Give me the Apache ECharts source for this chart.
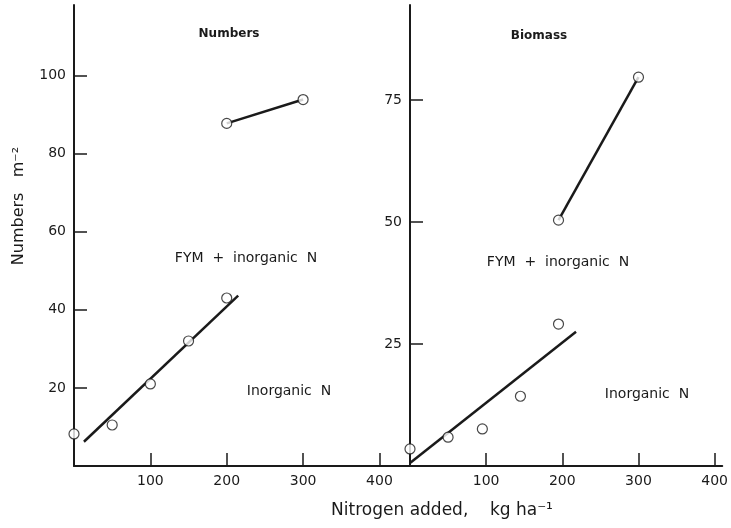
<!DOCTYPE html>
<html>
<head>
<meta charset="utf-8">
<script src="https://cdn.jsdelivr.net/npm/echarts@6/dist/echarts.min.js"></script>
<style>
  html, body { margin: 0; padding: 0; background: #fff; }
  #main { width: 731px; height: 528px; }
</style>
</head>
<body>
<div id="main"></div>
<script>
// Numbers panel (left)
const numInorgX = [0, 50, 100, 150, 200];
const numInorgY = [8.2, 10.5, 21, 32, 43];
const numInorgFitX = [13, 215];
const numInorgFitY = [6.2, 43.6];
const numFymX = [200, 300];
const numFymY = [87.7, 93.8];

// Biomass panel (right)
const bioInorgX = [0, 50, 95, 145, 195];
const bioInorgY = [3.5, 5.9, 7.6, 14.3, 29.1];
const bioInorgFitX = [0, 218];
const bioInorgFitY = [0.6, 27.5];
const bioFymX = [195, 300];
const bioFymY = [50.4, 79.7];

// tick labels
const xTicks = [100, 200, 300, 400];
const numYTicks = [20, 40, 60, 80, 100];
const bioYTicks = [25, 50, 75];

const ink = '#1a1a1a';
const font = 'DejaVu Sans';
const pairs = (xs, ys) => xs.map((x, i) => [x, ys[i]]);

const axisBase = {
  type: 'value',
  splitLine: { show: false },
  axisLine: { show: true, lineStyle: { color: ink, width: 2 } },
  axisTick: { show: true, inside: true, length: 13, lineStyle: { color: ink, width: 1.5 } },
  axisLabel: { color: ink, fontFamily: font, fontSize: 14 }
};

const xAxisOf = (idx, max) => ({
  ...axisBase,
  gridIndex: idx,
  min: 0,
  max: max,
  axisTick: { ...axisBase.axisTick, customValues: xTicks },
  axisLabel: { ...axisBase.axisLabel, customValues: xTicks, margin: 8 }
});

const yAxisOf = (idx, max, ticks) => ({
  ...axisBase,
  gridIndex: idx,
  min: 0,
  max: max,
  axisTick: { ...axisBase.axisTick, customValues: ticks },
  axisLabel: { ...axisBase.axisLabel, customValues: ticks, margin: 8 }
});

const points = (idx, xs, ys) => ({
  type: 'scatter',
  xAxisIndex: idx,
  yAxisIndex: idx,
  symbol: 'circle',
  symbolSize: 10,
  itemStyle: { color: '#fff', borderColor: ink, borderWidth: 1.2 },
  z: 5,
  data: pairs(xs, ys)
});

const line = (idx, xs, ys) => ({
  type: 'line',
  xAxisIndex: idx,
  yAxisIndex: idx,
  showSymbol: false,
  lineStyle: { color: ink, width: 2.5 },
  z: 3,
  data: pairs(xs, ys)
});

const label = (text, x, y, size, weight, rot) => ({
  type: 'text',
  x: x,
  y: y,
  rotation: rot || 0,
  style: {
    text: text,
    fill: ink,
    font: (weight || 'normal') + ' ' + size + 'px "' + font + '"',
    textAlign: 'center',
    textVerticalAlign: 'middle'
  }
});

const chart = echarts.init(document.getElementById('main'));
chart.setOption({
  animation: false,
  backgroundColor: '#fff',
  grid: [
    { left: 74, top: 5, width: 336, height: 461 },
    { left: 410, top: 5, width: 314, height: 461 }
  ],
  xAxis: [xAxisOf(0, 440), xAxisOf(1, 410)],
  yAxis: [yAxisOf(0, 118, numYTicks), yAxisOf(1, 94.5, bioYTicks)],
  graphic: [
    label('Numbers', 229, 34, 12, 'bold'),
    label('FYM  +  inorganic  N', 246, 258, 14),
    label('Inorganic  N', 289, 391, 14),
    label('Biomass', 539, 36, 12, 'bold'),
    label('FYM  +  inorganic  N', 558, 262, 14),
    label('Inorganic  N', 647, 394, 14),
    label('Numbers   m⁻²', 19, 206, 16, 'normal', Math.PI / 2),
    label('Nitrogen added,    kg ha⁻¹', 442, 511, 17)
  ],
  series: [
    line(0, numInorgFitX, numInorgFitY),
    line(0, numFymX, numFymY),
    points(0, numInorgX, numInorgY),
    points(0, numFymX, numFymY),
    line(1, bioInorgFitX, bioInorgFitY),
    line(1, bioFymX, bioFymY),
    points(1, bioInorgX, bioInorgY),
    points(1, bioFymX, bioFymY)
  ]
});
</script>
</body>
</html>
